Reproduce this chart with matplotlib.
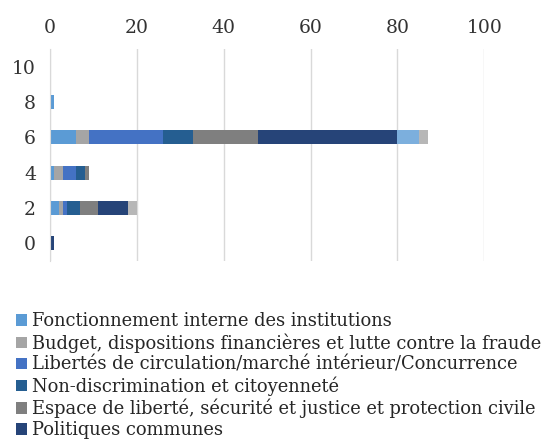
import matplotlib
matplotlib.use("Agg")
import matplotlib.pyplot as plt
import numpy as np

# positions sur l'axe vertical
positions = [0, 2, 4, 6, 8, 10]

# series (Excel stacks them in this order)
series_names = [
    "Fonctionnement interne des institutions",
    "Budget, dispositions financières et lutte contre la fraude",
    "Libertés de circulation/marché intérieur/Concurrence",
    "Non-discrimination et citoyenneté",
    "Espace de liberté, sécurité et justice et protection civile",
    "Politiques communes",
    "Série 7",
    "Série 8",
]
fonctionnement = [0, 2, 1, 6, 1, 0]
budget = [0, 1, 2, 3, 0, 0]
libertes = [0, 1, 3, 17, 0, 0]
non_discrimination = [0, 3, 2, 7, 0, 0]
espace = [0, 4, 1, 15, 0, 0]
politiques = [1, 7, 0, 32, 0, 0]
serie7 = [0, 0, 0, 5, 0, 0]
serie8 = [0, 2, 0, 2, 0, 0]

colors = ["#5b9bd5", "#a5a5a5", "#4472c4", "#255e91", "#7f7f7f", "#264478",
          "#7cafdd", "#b7b7b7"]

plt.rcParams['font.family'] = ['DejaVu Serif']

fig = plt.figure(figsize=(5.47, 4.43), dpi=100)
ax = fig.add_axes([0.0914, 0.411, 0.794, 0.478])

data = [fonctionnement, budget, libertes, non_discrimination, espace,
        politiques, serie7, serie8]
left = np.zeros(len(positions))
handles = []
for name, vals, c in zip(series_names, data, colors):
    b = ax.barh(positions, vals, left=left, height=0.8, color=c, label=name)
    handles.append(b)
    left += np.array(vals)

ax.set_xlim(0, 100)
ax.set_ylim(-1, 11)
ax.set_xticks([0, 20, 40, 60, 80, 100])
ax.set_yticks(positions)
ax.xaxis.tick_top()
ax.tick_params(axis='both', length=0, labelsize=13.5, colors='#333333', pad=9)
ax.tick_params(axis='y', pad=10)
ax.grid(axis='x', color='#d9d9d9', linewidth=1)
ax.set_axisbelow(True)
for s in ['top', 'right', 'bottom']:
    ax.spines[s].set_visible(False)
ax.spines['left'].set_color('#d9d9d9')

fig.legend(handles[:6], series_names[:6], loc='upper left',
           bbox_to_anchor=(0.03, 0.295), frameon=False, fontsize=12.9,
           handlelength=0.6, handleheight=0.6, handletextpad=0.25,
           labelspacing=0.16, borderpad=0, borderaxespad=0,
           labelcolor='#262626')

fig.savefig("out.png", dpi=100)
